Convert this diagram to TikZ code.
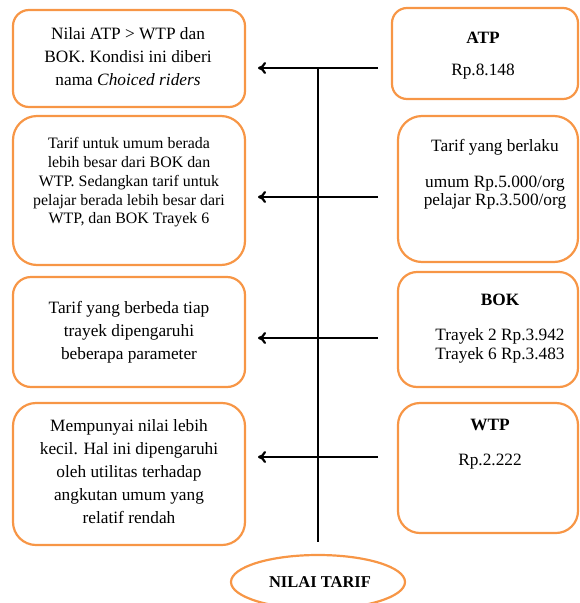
\documentclass[tikz,border=0pt]{standalone}
\usepackage{fontspec}
\setmainfont{Liberation Serif}
\usetikzlibrary{arrows.meta,shapes.geometric}
\definecolor{boxorange}{RGB}{247,150,70}
\begin{document}
\begin{tikzpicture}[x=1pt,y=-1pt,
  box/.style={draw=boxorange, line width=2.2pt, rectangle, inner sep=0pt},
  txt/.style={align=center, inner sep=0pt, font=\fontsize{17.3}{23}\selectfont},
  smalltxt/.style={align=center, inner sep=0pt, font=\fontsize{15.9}{18.75}\selectfont},
  rtxt/.style={align=center, inner sep=0pt, font=\fontsize{17.3}{18.7}\selectfont},
  ln/.style={line width=2.2pt, black},
  arr/.style={ln, -{Computer Modern Rightarrow[length=8pt,width=12pt]}}]
\useasboundingbox (0,0) rectangle (579,603);

% left boxes
\node[box, minimum width=232pt, minimum height=97pt, rounded corners=16pt] (L1) at (129,58.5) {};
\node[box, minimum width=232pt, minimum height=149pt, rounded corners=24pt] (L2) at (129,190.5) {};
\node[box, minimum width=232pt, minimum height=110pt, rounded corners=18pt] (L3) at (129,332) {};
\node[box, minimum width=232pt, minimum height=142pt, rounded corners=23pt] (L4) at (129,474) {};

\node[txt] (L1t) at (128,57) {Nilai ATP > WTP dan\\BOK. Kondisi ini diberi\\nama \textit{Choiced riders}};
\node[smalltxt] (L2t) at (129,182.5) {Tarif untuk umum berada\\lebih besar dari BOK dan\\WTP. Sedangkan tarif untuk\\pelajar berada lebih besar dari\\WTP, dan BOK Trayek 6};
\node[txt] (L3t) at (129,332) {Tarif yang berbeda tiap\\trayek dipengaruhi\\beberapa parameter};
\node[txt] (L4t) at (129,472) {Mempunyai nilai lebih\\kecil. Hal ini dipengaruhi\\oleh utilitas terhadap\\angkutan umum yang\\relatif rendah};

% right boxes
\node[box, minimum width=186pt, minimum height=91pt, rounded corners=15pt] (R1) at (485,53.5) {};
\node[box, minimum width=180pt, minimum height=146pt, rounded corners=24pt] (R2) at (488,189) {};
\node[box, minimum width=180pt, minimum height=115pt, rounded corners=19pt] (R3) at (488,329.5) {};
\node[box, minimum width=180pt, minimum height=130pt, rounded corners=22pt] (R4) at (488,468) {};

\node[rtxt] (R1a) at (483,38) {\textbf{ATP}};
\node[rtxt] (R1b) at (483,72) {Rp.8.148};
\node[rtxt] (R2a) at (495,147) {Tarif yang berlaku};
\node[rtxt] (R2b) at (495,192.5) {umum Rp.5.000/org\\pelajar Rp.3.500/org};
\node[rtxt] (R3a) at (500,300) {\textbf{BOK}};
\node[rtxt] (R3b) at (500,346) {Trayek 2 Rp.3.942\\Trayek 6 Rp.3.483};
\node[rtxt] (R4a) at (490,425) {\textbf{WTP}};
\node[rtxt] (R4b) at (490,462) {Rp.2.222};

% bottom ellipse
\node[ellipse, draw=boxorange, line width=2.2pt, minimum width=174pt, minimum height=54pt, inner sep=0pt] (ell) at (318,582) {};
\begin{scope}
  \clip (230,560) rectangle (410,587);
  \node[inner sep=0pt, font=\bfseries\fontsize{16.5}{18}\selectfont] (ellt) at (320,582.5) {NILAI TARIF};
\end{scope}

% connectors
\coordinate (vtop) at (318,68);
\draw[ln, shorten >=12pt] (vtop) -- (ell.north);

\coordinate (s1) at (378,68);  \coordinate (e1) at (258,68);
\coordinate (s2) at (378,197); \coordinate (e2) at (258,197);
\coordinate (s3) at (378,338); \coordinate (e3) at (258,338);
\coordinate (s4) at (378,457); \coordinate (e4) at (258,457);
\draw[arr] (s1) -- (e1);
\draw[arr] (s2) -- (e2);
\draw[arr] (s3) -- (e3);
\draw[arr] (s4) -- (e4);
\end{tikzpicture}
\end{document}
